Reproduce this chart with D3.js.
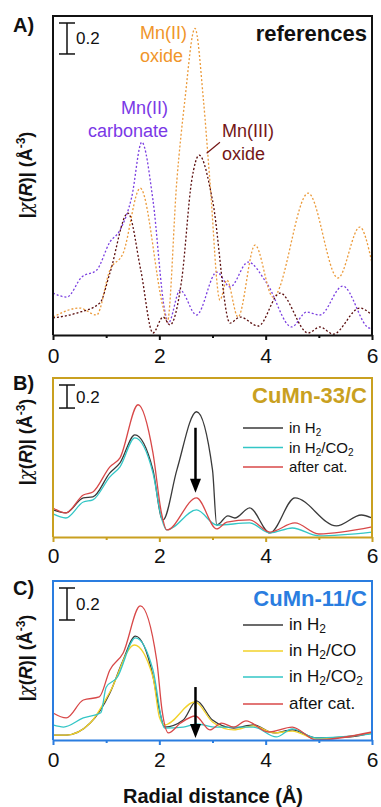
<!DOCTYPE html>
<html>
<head>
<meta charset="utf-8">
<script src="https://cdn.jsdelivr.net/npm/d3@7"></script>
<style>
  body { margin: 0; background: #fff; }
  svg { display: block; font-family: "Liberation Sans", Arial, sans-serif; }
</style>
</head>
<body>
<div id="root"></div>
<script>
// ---- data (R in Å, |chi(R)| in Å^-3) ----
const mn2oxideR = [0, 0.5, 0.82, 1.07, 1.32, 1.64, 2.07, 2.15, 2.33, 2.48, 2.67, 2.83, 2.95, 3.14, 3.27, 3.48, 3.8, 4.14, 4.8, 5.36, 5.77, 6.0]
const mn2oxideY = [0.116, 0.174, 0.129, 0.419, 0.529, 0.948, 0.181, 0.084, 1.0, 1.516, 1.98, 1.516, 1.0, 0.226, 0.355, 0.116, 0.581, 0.245, 0.916, 0.368, 0.697, 0.465]

const mn2carbR = [0, 0.26, 0.54, 0.82, 1.07, 1.26, 1.48, 1.67, 1.88, 2.1, 2.17, 2.39, 2.7, 3.08, 3.33, 3.67, 4.02, 4.49, 4.77, 5.02, 5.45, 5.96, 6.0]
const mn2carbY = [0.271, 0.245, 0.374, 0.419, 0.6, 0.677, 0.89, 1.245, 0.871, 0.161, 0.077, 0.29, 0.129, 0.406, 0.31, 0.471, 0.335, 0.052, 0.148, 0.129, 0.316, 0.045, 0.052]

const mn3oxideR = [0, 0.45, 0.88, 1.07, 1.41, 1.65, 1.88, 2.07, 2.2, 2.42, 2.61, 2.75, 3.0, 3.33, 3.52, 3.86, 4.27, 4.8, 5.02, 5.27, 5.77, 6.0]
const mn3oxideY = [0.11, 0.142, 0.206, 0.4, 0.787, 0.42, 0.013, 0.116, 0.065, 0.355, 1.0, 1.161, 0.871, 0.077, 0.116, 0.058, 0.271, 0.013, 0.052, 0.006, 0.174, 0.129]

const b_h2R = [0, 0.24, 0.57, 0.75, 1.07, 1.26, 1.54, 1.88, 2.04, 2.07, 2.33, 2.7, 3.0, 3.08, 3.29, 3.42, 3.7, 4.08, 4.55, 5.33, 5.8, 6.0]
const b_h2Y = [0.235, 0.209, 0.339, 0.348, 0.557, 0.643, 0.887, 0.583, 0.165, 0.148, 0.583, 1.087, 0.583, 0.104, 0.183, 0.165, 0.252, 0.035, 0.339, 0.096, 0.191, 0.165]

const b_co2R = [0, 0.24, 0.57, 0.75, 1.07, 1.26, 1.54, 1.88, 2.04, 2.14, 2.7, 3.08, 3.7, 4.08, 4.5, 5.0, 6.0]
const b_co2Y = [0.2, 0.165, 0.304, 0.322, 0.522, 0.609, 0.861, 0.557, 0.165, 0.061, 0.235, 0.104, 0.122, 0.035, 0.078, 0.01, 0.043]

const b_catR = [0, 0.24, 0.57, 0.75, 1.07, 1.26, 1.6, 1.88, 2.04, 2.14, 2.7, 3.08, 3.27, 3.7, 4.08, 4.55, 5.0, 6.0]
const b_catY = [0.252, 0.209, 0.365, 0.391, 0.609, 0.687, 1.148, 0.73, 0.209, 0.061, 0.339, 0.07, 0.13, 0.148, 0.043, 0.122, 0.026, 0.087]

const c_h2R = [0, 0.25, 0.7, 1.07, 1.32, 1.55, 1.88, 2.0, 2.1, 2.45, 2.7, 3.0, 3.4, 3.77, 4.16, 4.5, 4.95, 5.6, 6.0]
const c_h2Y = [0.031, 0.031, 0.106, 0.294, 0.5, 0.65, 0.4, 0.188, 0.081, 0.125, 0.244, 0.125, 0.075, 0.094, 0.044, 0.063, 0.013, 0.019, 0.044]

const c_coR = [0, 0.25, 0.7, 1.07, 1.53, 1.88, 2.0, 2.1, 2.67, 3.0, 3.4, 3.77, 4.16, 4.5, 4.95, 6.0]
const c_coY = [0.031, 0.031, 0.106, 0.3, 0.594, 0.394, 0.144, 0.094, 0.238, 0.113, 0.063, 0.088, 0.044, 0.056, 0.006, 0.044]

const c_co2R = [0, 0.2, 0.57, 0.9, 1.0, 1.2, 1.55, 1.88, 2.1, 2.45, 2.7, 3.07, 3.77, 4.2, 4.5, 4.95, 6.0]
const c_co2Y = [0.094, 0.081, 0.138, 0.17, 0.33, 0.388, 0.638, 0.438, 0.075, 0.081, 0.1, 0.081, 0.081, 0.019, 0.069, 0.013, 0.038]

const c_catR = [0, 0.25, 0.57, 0.87, 1.07, 1.32, 1.64, 1.95, 2.05, 2.17, 2.4, 2.68, 2.95, 3.17, 3.4, 3.63, 4.05, 4.5, 4.95, 6.0]
const c_catY = [0.169, 0.138, 0.25, 0.269, 0.438, 0.544, 0.838, 0.5, 0.188, 0.044, 0.106, 0.15, 0.063, 0.106, 0.081, 0.119, 0.05, 0.081, 0.0, 0.05]

const xTicks = [0, 2, 4, 6]
const xMinorTicks = [1, 3, 5]

const W = 381
const H = 807
const X_LEFT = 53
const X_RIGHT = 372
const FONT = '"Liberation Sans", Arial, sans-serif'

const zip = (xs, ys) => xs.map((x, i) => [x, ys[i]])

const svg = d3.select('#root')
    .append('svg')
    .attr('width', W)
    .attr('height', H)

const xScale = d3.scaleLinear().domain([0, 6]).range([X_LEFT, X_RIGHT])

const panels = [
    {
        letter: 'A)', top: 16, bottom: 335, ymax: 2.06, frame: '#111', title: 'references', titleColor: '#111',
        labelY: 175, letterY: 32, tickLabelY: 363, legendFont: 17, subFont: 12,
        series: [
            {r: mn2carbR, v: mn2carbY, color: '#7a3ee0', dash: '2,2'},
            {r: mn2oxideR, v: mn2oxideY, color: '#eb9a3a', dash: '2,2'},
            {r: mn3oxideR, v: mn3oxideY, color: '#5a0c0c', dash: '2,2'},
        ],
    },
    {
        letter: 'B)', top: 378, bottom: 537, ymax: 1.38, frame: '#c9a020', title: 'CuMn-33/C', titleColor: '#c9a020',
        labelY: 442, letterY: 390, tickLabelY: 563, legendFont: 15, subFont: 10,
        series: [
            {r: b_h2R, v: b_h2Y, color: '#3a3a3a', name: ['in H', '2'], legY: 428},
            {r: b_co2R, v: b_co2Y, color: '#33c6c6', name: ['in H', '2', '/CO', '2'], legY: 447.5},
            {r: b_catR, v: b_catY, color: '#d84848', name: ['after cat.'], legY: 467},
        ],
        arrow: {r: 2.68, from: 0.948, to: 0.383},
    },
    {
        letter: 'C)', top: 581, bottom: 740, ymax: 0.994, frame: '#2a7de0', title: 'CuMn-11/C', titleColor: '#2a7de0',
        labelY: 658, letterY: 595, tickLabelY: 767, legendFont: 17, subFont: 12,
        series: [
            {r: c_h2R, v: c_h2Y, color: '#3a3a3a', name: ['in H', '2'], legY: 625},
            {r: c_coR, v: c_coY, color: '#f2d22a', name: ['in H', '2', '/CO'], legY: 651},
            {r: c_co2R, v: c_co2Y, color: '#33c6c6', name: ['in H', '2', '/CO', '2'], legY: 677},
            {r: c_catR, v: c_catY, color: '#d84848', name: ['after cat.'], legY: 704},
        ],
        arrow: {r: 2.68, from: 0.331, to: 0.013},
    },
]

panels.forEach(p => {
    const yScale = d3.scaleLinear().domain([0, p.ymax]).range([p.bottom, p.top])
    const g = svg.append('g')

    const line = d3.line()
        .x(d => xScale(d[0]))
        .y(d => yScale(d[1]))
        .curve(d3.curveMonotoneX)

    // curves
    p.series.forEach(s => {
        g.append('path')
            .datum(zip(s.r, s.v))
            .attr('d', line)
            .attr('fill', 'none')
            .attr('stroke', s.color)
            .attr('stroke-width', 1.3)
            .attr('stroke-dasharray', s.dash || null)
    })

    // frame
    g.append('path')
        .attr('d', `M${xScale(0)},${yScale(0)}V${yScale(p.ymax)}H${xScale(6)}V${yScale(0)}`)
        .attr('fill', 'none')
        .attr('stroke', p.frame)
        .attr('stroke-width', 2)

    // x axis
    const xAxis = d3.axisBottom(xScale).tickValues(xTicks).tickSize(5).tickSizeOuter(0).tickFormat(d3.format('d'))
    const ax = g.append('g')
        .attr('transform', `translate(0,${p.bottom})`)
        .call(xAxis)
    ax.select('.domain').attr('stroke', p.frame).attr('stroke-width', 2)
    ax.selectAll('.tick line').attr('stroke', p.frame).attr('stroke-width', 2)
    ax.selectAll('.tick text')
        .attr('y', null).attr('dy', null)
        .attr('transform', `translate(0,${p.tickLabelY - p.bottom})`)
        .attr('fill', '#111')
        .style('font-family', FONT)
        .style('font-size', '21px')

    const minorAxis = d3.axisBottom(xScale).tickValues(xMinorTicks).tickSize(3).tickSizeOuter(0).tickFormat('')
    const mx = g.append('g')
        .attr('transform', `translate(0,${p.bottom})`)
        .call(minorAxis)
    mx.select('.domain').remove()
    mx.selectAll('.tick line').attr('stroke', p.frame).attr('stroke-width', 2)

    // panel letter
    g.append('text')
        .attr('x', 13).attr('y', p.letterY)
        .style('font-weight', 'bold').style('font-size', '20px')
        .attr('fill', '#111')
        .text(p.letter)

    // title top right
    g.append('text')
        .attr('x', 367).attr('y', p.top + 25)
        .attr('text-anchor', 'end')
        .style('font-weight', 'bold').style('font-size', '22px')
        .attr('fill', p.titleColor)
        .text(p.title)

    // y label
    const yl = g.append('text')
        .attr('transform', `translate(32,${p.labelY}) rotate(-90)`)
        .attr('text-anchor', 'middle')
        .style('font-weight', 'bold').style('font-size', '18px')
        .attr('fill', '#111')
    yl.append('tspan').text('|')
    yl.append('tspan').text('χ').style('font-style', 'italic').style('font-weight', 'normal').style('font-family', '"DejaVu Serif", serif')
    yl.append('tspan').text('(')
    yl.append('tspan').text('R').style('font-style', 'italic')
    yl.append('tspan').text(')| (Å')
    yl.append('tspan').text('-3').attr('dy', -7).style('font-size', '12px')
    yl.append('tspan').text(')').attr('dy', 7)

    // 0.2 scale bar
    const sbTop = p.top + 7
    const sbBot = yScale(p.ymax - 0.2) + 7
    const sb = g.append('g').attr('stroke', '#111').attr('stroke-width', 1.5)
    sb.append('line').attr('x1', 67).attr('x2', 67).attr('y1', sbTop).attr('y2', sbBot)
    sb.append('line').attr('x1', 59).attr('x2', 75).attr('y1', sbTop).attr('y2', sbTop)
    sb.append('line').attr('x1', 59).attr('x2', 75).attr('y1', sbBot).attr('y2', sbBot)
    g.append('text')
        .attr('x', 76).attr('y', (sbTop + sbBot) / 2 + 6)
        .style('font-size', '17px').attr('fill', '#111')
        .text('0.2')

    // legend
    p.series.filter(s => s.name).forEach(s => {
        g.append('line')
            .attr('x1', 243).attr('x2', 283)
            .attr('y1', s.legY).attr('y2', s.legY)
            .attr('stroke', s.color).attr('stroke-width', 1.3)
        const t = g.append('text')
            .attr('x', 289).attr('y', s.legY + 5)
            .style('font-size', p.legendFont + 'px').attr('fill', '#111')
        s.name.forEach((part, i) => {
            const ts = t.append('tspan').text(part)
            if (i % 2 === 1) ts.attr('dy', 3).style('font-size', p.subFont + 'px')
            else if (i > 0) ts.attr('dy', -3)
        })
    })

    // arrow
    if (p.arrow) {
        const ax0 = xScale(p.arrow.r)
        const yFrom = yScale(p.arrow.from)
        const yTo = yScale(p.arrow.to)
        g.append('line')
            .attr('x1', ax0).attr('x2', ax0)
            .attr('y1', yFrom).attr('y2', yTo - 12)
            .attr('stroke', '#000').attr('stroke-width', 2.5)
        g.append('path')
            .attr('d', `M${ax0 - 5.5},${yTo - 14}L${ax0 + 5.5},${yTo - 14}L${ax0},${yTo}Z`)
            .attr('fill', '#000')
    }

    p.yScale = yScale
})

// annotations in panel A
const yA = panels[0].yScale
const notes = [
    {lines: ['Mn(II)', 'oxide'], x: 140, y: 39, anchor: 'start', color: '#f0952a'},
    {lines: ['Mn(II)', 'carbonate'], x: 168, y: 114, anchor: 'end', color: '#7a38e6'},
    {lines: ['Mn(III)', 'oxide'], x: 222, y: 137, anchor: 'start', color: '#741616'},
]
notes.forEach(n => {
    const t = svg.append('text')
        .attr('text-anchor', n.anchor)
        .attr('fill', n.color)
        .style('font-size', '18px')
    n.lines.forEach((l, i) => {
        t.append('tspan').attr('x', n.x).attr('y', n.y + i * 23).text(l)
    })
})
svg.append('line')
    .attr('x1', xScale(2.89)).attr('y1', yA(1.174))
    .attr('x2', xScale(3.14)).attr('y2', yA(1.245))
    .attr('stroke', '#741616').attr('stroke-width', 1.2)

// x axis title
svg.append('text')
    .attr('x', 213).attr('y', 803)
    .attr('text-anchor', 'middle')
    .style('font-weight', 'bold').style('font-size', '20px')
    .attr('fill', '#111')
    .text('Radial distance (Å)')
</script>
</body>
</html>
